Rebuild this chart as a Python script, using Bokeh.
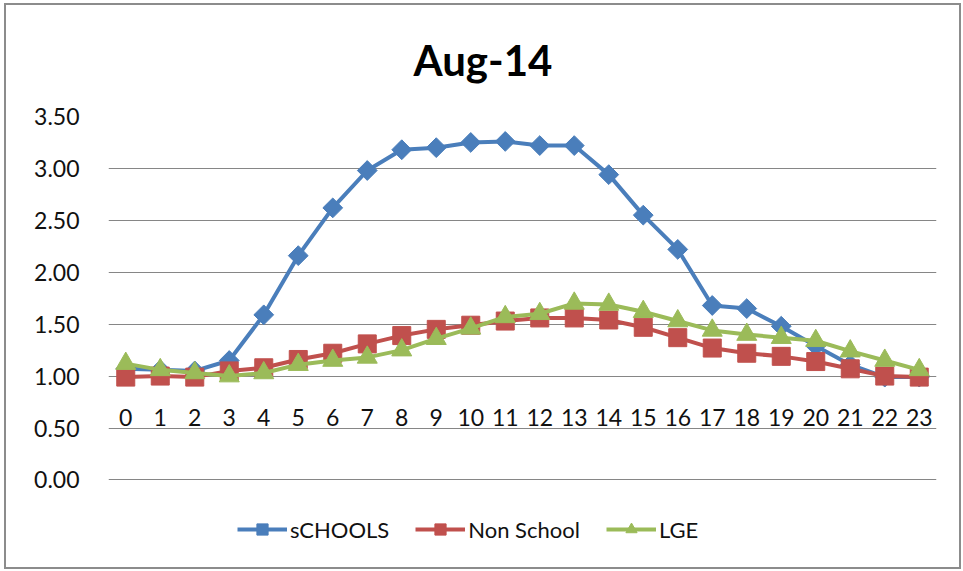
import math
from bokeh.plotting import figure
from bokeh.models import (FixedTicker, NumeralTickFormatter, Legend, LegendItem,
                          ColumnDataSource, Range1d)
from bokeh.core.properties import value
from bokeh.embed import file_html
from bokeh.resources import INLINE

title_text = "Aug-14"
hours = list(range(24))
hour_labels = [str(h) for h in hours]
schools = [1.07, 1.06, 1.05, 1.15, 1.59, 2.16, 2.62, 2.98, 3.18, 3.20, 3.25, 3.26,
           3.22, 3.22, 2.94, 2.55, 2.22, 1.68, 1.65, 1.48, 1.29, 1.11, 0.99, 0.99]
non_school = [0.99, 1.00, 0.99, 1.05, 1.08, 1.16, 1.22, 1.31, 1.39, 1.45, 1.49, 1.53,
              1.56, 1.56, 1.54, 1.47, 1.37, 1.27, 1.22, 1.19, 1.14, 1.07, 1.00, 0.99]
lge = [1.12, 1.06, 1.03, 1.00, 1.03, 1.11, 1.15, 1.18, 1.25, 1.36, 1.46, 1.57,
       1.60, 1.70, 1.69, 1.62, 1.53, 1.44, 1.40, 1.37, 1.34, 1.24, 1.15, 1.06]
series_names = ["sCHOOLS", "Non School", "LGE"]
y_ticks = [0.0, 0.5, 1.0, 1.5, 2.0, 2.5, 3.0, 3.5]
x_axis_cross = 1.0

FONT = "Lato"
colors = ["#4A7EBB", "#C0504D", "#9BBB59"]

# the frame reaches down to the bottom edge so the legend can sit inside it
p = figure(width=957, height=566, output_backend="svg", toolbar_location=None,
           x_range=Range1d(-0.5, 23.5), y_range=Range1d(-0.882, 3.5),
           min_border_left=102, min_border_right=27, min_border_top=110,
           min_border_bottom=0, title=title_text)
p.styles = {"border": "2px solid #8c8c8c", "margin-left": "4px", "margin-top": "3px"}
p.outline_line_color = None
p.background_fill_color = "white"
p.border_fill_color = "white"

p.title.text_font = FONT
p.title.text_font_size = "42px"
p.title.text_font_style = "bold"
p.title.align = "left"
p.title.offset = 305
p.title.text_color = "black"
p.title.standoff = 59
p.title.vertical_align = "top"

p.xaxis.visible = False
p.xgrid.visible = False
p.ygrid.ticker = FixedTicker(ticks=y_ticks)
p.ygrid.grid_line_color = "#868686"
p.ygrid.grid_line_width = 1

ya = p.yaxis[0]
ya.ticker = FixedTicker(ticks=y_ticks)
ya.formatter = NumeralTickFormatter(format="0.00")
ya.axis_line_color = None
ya.major_tick_line_color = None
ya.minor_tick_line_color = None
ya.major_label_standoff = 23
ya.major_label_text_font = FONT
ya.major_label_text_font_size = "23px"
ya.major_label_text_color = "#111111"

# category labels placed under the horizontal axis that crosses at 1.0
lab_src = ColumnDataSource(dict(x=hours, y=[x_axis_cross] * len(hours), t=hour_labels))
p.text(x="x", y="y", text="t", source=lab_src, text_font=value(FONT),
       text_font_size="23px", text_align="center", text_baseline="middle",
       y_offset=41, text_color="#111111")

src = ColumnDataSource(dict(x=hours, s=schools, n=non_school, l=lge))
r1l = p.line("x", "s", source=src, line_color=colors[0], line_width=4)
r1m = p.scatter("x", "s", source=src, marker="square", angle=math.pi / 4, size=14,
                fill_color=colors[0], line_color=colors[0])
r2l = p.line("x", "n", source=src, line_color=colors[1], line_width=4)
r2m = p.scatter("x", "n", source=src, marker="square", size=18,
                fill_color=colors[1], line_color=colors[1])
r3l = p.line("x", "l", source=src, line_color=colors[2], line_width=4)
r3m = p.scatter("x", "l", source=src, marker="triangle", size=20,
                fill_color=colors[2], line_color=colors[2])

legend = Legend(items=[
    LegendItem(label=series_names[0], renderers=[r1l, r1m]),
    LegendItem(label=series_names[1], renderers=[r2l, r2m]),
    LegendItem(label=series_names[2], renderers=[r3l, r3m]),
], orientation="horizontal", location=(129, 28), padding=0, margin=0,
    spacing=26, label_standoff=3, glyph_width=50, glyph_height=28,
    label_text_font=FONT, label_text_font_size="22px", label_text_color="#111111",
    border_line_color=None, background_fill_alpha=0)
p.add_layout(legend, "center")

open("out.html", "w").write(file_html(p, INLINE))
